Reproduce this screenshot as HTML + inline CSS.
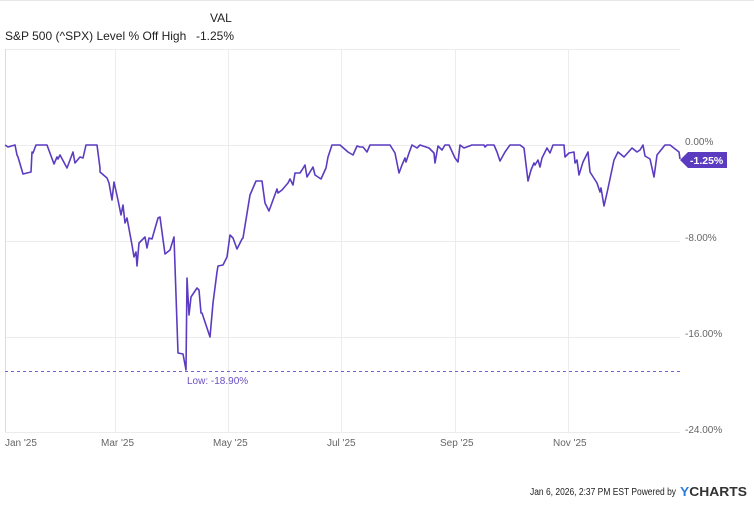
<!DOCTYPE html>
<html><head><meta charset="utf-8"><style>
html,body{margin:0;padding:0;background:#fff;}
body{width:754px;height:506px;overflow:hidden;font-family:"Liberation Sans",sans-serif;position:relative;}
.t{position:absolute;white-space:nowrap;}
</style></head><body>
<div style="position:absolute;left:0;top:0;width:754px;height:1px;background:#e6e6e6"></div>
<div class="t" style="left:210px;top:11px;font-size:12px;color:#222">VAL</div>
<div class="t" style="left:5px;top:29px;font-size:12px;color:#222">S&amp;P 500 (^SPX) Level % Off High</div>
<div class="t" style="left:196px;top:29px;font-size:12px;color:#222">-1.25%</div>
<svg style="position:absolute;left:0;top:0" width="754" height="506">
<g stroke="#ececec" stroke-width="1">
<line x1="5" y1="49.5" x2="680" y2="49.5"/>
<line x1="5" y1="145.5" x2="680" y2="145.5"/>
<line x1="5" y1="241.5" x2="680" y2="241.5"/>
<line x1="5" y1="337.5" x2="680" y2="337.5"/>
<line x1="5" y1="432.5" x2="680" y2="432.5"/>
<line x1="115.5" y1="49" x2="115.5" y2="432"/>
<line x1="228.5" y1="49" x2="228.5" y2="432"/>
<line x1="341.5" y1="49" x2="341.5" y2="432"/>
<line x1="455.5" y1="49" x2="455.5" y2="432"/>
<line x1="568.5" y1="49" x2="568.5" y2="432"/>
</g>
<line x1="5.5" y1="49" x2="5.5" y2="432" stroke="#dcdcdc"/>
<line x1="5" y1="371.5" x2="680" y2="371.5" stroke="#7b5fd0" stroke-dasharray="3,3" stroke-width="1"/>
<polyline fill="none" stroke="#5b3cc0" stroke-width="1.6" stroke-linejoin="round" points="5,145 8,147 15,145 17,155 18,157 23,174 31,172 32,152 33,153 36,145 47,145 54,164 57,157 58,159 60,155 67,168 73,152 75,163 80,157 83,158 86,145 97,145 100,168 100,172 107,178 109,183 112,200 114,182 118,200 121,215 123,205 125,223 127,218 132,245 134,257 136,252 137,266 139,243 145,237 147,248 149,238 152,239 158,218 160,217 162,232 165,254 170,250 174,237 178,353 183,354 186,370 187,278 189,315 191,297 197,288 199,290 201,313 202,313 210,337 213,303 217,272 218,266 223,265 227,257 230,235 233,238 237,249 242,239 243,238 250,195 256,181 262,181 265,203 269,211 277,189 278,193 282,190 288,183 290,179 293,185 295,173 300,173 302,170 305,165 307,177 313,167 315,175 321,179 326,168 328,157 332,145 340,145 348,152 353,155 357,146 360,147 363,147 367,152 370,145 390,145 395,153 399,173 402,165 405,158 406,162 409,153 412,145 417,148 420,145 429,148 434,153 435,163 438,146 442,150 445,145 449,145 455,158 458,162 460,145 464,148 472,145 484,145 485,147 487,145 494,145 497,152 500,161 505,152 510,145 520,145 524,148 528,181 531,170 534,163 535,165 538,160 540,167 542,158 547,148 550,153 553,145 564,145 565,157 569,153 574,152 575,163 577,160 579,175 583,162 588,152 590,172 597,183 600,192 601,188 604,206 607,193 614,160 618,152 624,157 632,148 637,152 640,150 643,145 645,156 650,159 654,177 657,155 665,145 670,145 679,152 680,159"/>
<polygon points="680,160 688,152 727,152 727,168 688,168" fill="#5b3cc0"/>
<text x="690" y="164" font-size="10.5" font-weight="bold" fill="#fff" font-family="Liberation Sans">-1.25%</text>
<g font-size="10" fill="#666" font-family="Liberation Sans">
<text x="685" y="145">0.00%</text>
<text x="685" y="241">-8.00%</text>
<text x="685" y="337">-16.00%</text>
<text x="685" y="433">-24.00%</text>
<text x="5" y="446">Jan '25</text>
<text x="101" y="446">Mar '25</text>
<text x="213" y="446">May '25</text>
<text x="327" y="446">Jul '25</text>
<text x="440" y="446">Sep '25</text>
<text x="553" y="446">Nov '25</text>
</g>
<text x="187" y="384" font-size="10" fill="#6a4fc4" font-family="Liberation Sans">Low: -18.90%</text>
<text x="530" y="495" font-size="10" fill="#222" font-family="Liberation Sans" textLength="146" lengthAdjust="spacingAndGlyphs">Jan 6, 2026, 2:37 PM EST Powered by</text>
<text x="680" y="496" font-size="12.5" font-weight="bold" fill="#333" font-family="Liberation Sans" textLength="67" lengthAdjust="spacingAndGlyphs"><tspan fill="#2a7de1">Y</tspan>CHARTS</text>
</svg>
</body></html>
